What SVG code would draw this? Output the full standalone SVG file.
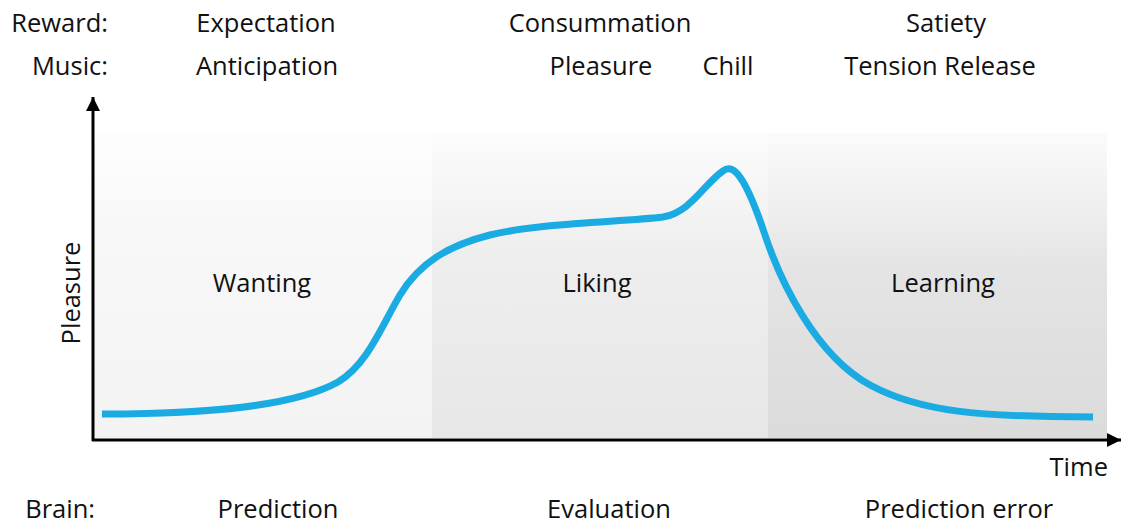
<svg xmlns="http://www.w3.org/2000/svg" width="1122" height="523" viewBox="0 0 1122 523">
<defs>
<linearGradient id="g1" x1="0" y1="0" x2="0" y2="1"><stop offset="0" stop-color="#fefefe"/><stop offset="0.3" stop-color="#f8f8f8"/><stop offset="1" stop-color="#f3f3f3"/></linearGradient>
<linearGradient id="g2" x1="0" y1="0" x2="0" y2="1"><stop offset="0" stop-color="#fcfcfc"/><stop offset="0.4" stop-color="#eeeeee"/><stop offset="1" stop-color="#e7e7e7"/></linearGradient>
<linearGradient id="g3" x1="0" y1="0" x2="0" y2="1"><stop offset="0" stop-color="#fbfbfb"/><stop offset="0.45" stop-color="#e4e4e4"/><stop offset="1" stop-color="#dbdbdb"/></linearGradient>
<marker id="ah" viewBox="0 0 10 10" refX="10" refY="5" markerWidth="22" markerHeight="14" markerUnits="userSpaceOnUse" orient="auto"><path d="M0,0 L10,5 L0,10 z" fill="#000"/></marker>
</defs>
<style>
text{font-family:"Open Sans","Liberation Sans",sans-serif;font-size:25.5px;fill:#111}
.m{text-anchor:middle}
.e{text-anchor:end}
.ax{stroke:#000;stroke-width:3;fill:none}
.curve{stroke:#1aabe3;stroke-width:7;fill:none;stroke-linecap:butt}
</style>
<g id="panels">
<rect x="94" y="133" width="338" height="305" fill="url(#g1)"/>
<rect x="432" y="133" width="336" height="305" fill="url(#g2)"/>
<rect x="768" y="133" width="339" height="305" fill="url(#g3)"/>
</g>
<g id="header">
<text class="e" x="108" y="32">Reward:</text>
<text class="m" x="266" y="32">Expectation</text>
<text class="m" x="600" y="32">Consummation</text>
<text class="m" x="946" y="32">Satiety</text>
<text class="e" x="108" y="75">Music:</text>
<text class="m" x="267" y="75">Anticipation</text>
<text class="m" x="601" y="75">Pleasure</text>
<text class="m" x="728" y="75">Chill</text>
<text class="m" x="940" y="75">Tension Release</text>
</g>
<g id="phase-labels">
<text class="m" x="262" y="292">Wanting</text>
<text class="m" x="597" y="292">Liking</text>
<text class="m" x="943" y="292">Learning</text>
</g>
<g id="connectors">
<line class="ax" x1="93" y1="441" x2="93" y2="97" marker-end="url(#ah)"/>
<line class="ax" x1="92" y1="440" x2="1121" y2="440" marker-end="url(#ah)"/>
<path class="curve" d="M102,414 C210,414 295,406 338,382 C368,364 382,325 400,295 C420,262 450,245 490,235 C540,223 620,222 663,217 C690,213 705,183 723,171 C733,163 745,175 765,235 C780,280 815,355 870,385 C920,412 980,417 1093,417"/>
</g>
<g id="axis-labels">
<text class="m" transform="translate(80,293) rotate(-90)" x="0" y="0">Pleasure</text>
<text class="e" x="1108" y="476">Time</text>
</g>
<g id="footer">
<text class="e" x="95" y="518">Brain:</text>
<text class="m" x="278" y="518">Prediction</text>
<text class="m" x="609" y="518">Evaluation</text>
<text class="m" x="959" y="518">Prediction error</text>
</g>
</svg>
